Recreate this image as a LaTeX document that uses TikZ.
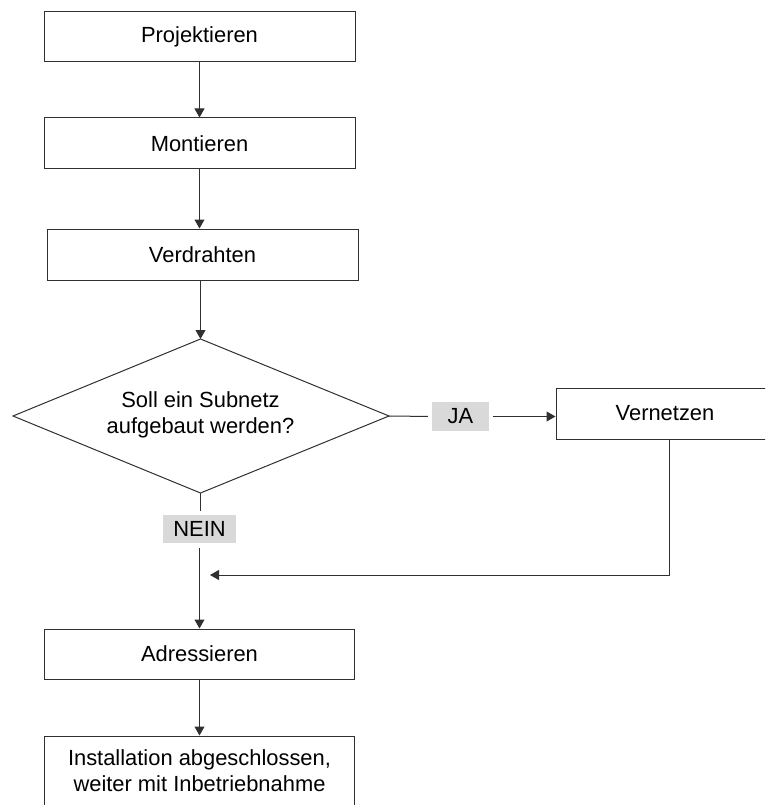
\documentclass[tikz,border=0pt]{standalone}
\usepackage{fontspec}
\setmainfont{Liberation Sans}
\usetikzlibrary{arrows.meta}
\definecolor{linec}{HTML}{303030}
\definecolor{labg}{HTML}{D9D9D9}
\begin{document}
\begin{tikzpicture}[x=1pt,y=-1pt,
  txt/.style={font=\fontsize{21.9}{26}\selectfont, align=center, text=black},
  box/.style={txt, draw=linec, line width=1pt, fill=white, minimum width=311pt, minimum height=51pt, inner sep=0pt},
  diatext/.style={txt, inner sep=0pt},
  lab/.style={txt, fill=labg, inner sep=0pt},
  conn/.style={draw=linec, line width=1pt},
  arr/.style={conn, -{Triangle[length=9pt,width=10pt]}}]
\useasboundingbox (0,0) rectangle (765,805);
\clip (0,0) rectangle (765,805);
\node[box, minimum height=50pt] (P) at (199.5,37) {Projektieren};
\node[box] (M) at (199.5,143.5) {Montieren};
\node[box] (V) at (202.5,254.5) {Verdrahten};
\coordinate (Dt) at (200.5,339);
\coordinate (Db) at (200.5,493);
\coordinate (Dl) at (13,416);
\coordinate (Dr) at (389,416);
\draw[conn, fill=white] (Dt) -- (Dr) -- (Db) -- (Dl) -- cycle;
\node[diatext] (D) at (200.5,415) {Soll ein Subnetz\\aufgebaut werden?};
\node[lab, minimum width=57pt, minimum height=29pt] (JA) at (460.5,416.5) {JA};
\node[box, minimum width=218pt] (VN) at (665,413.5) {Vernetzen};
\node[lab, minimum width=73pt, minimum height=28pt] (NEIN) at (199.5,529) {NEIN};
\node[box, minimum width=310pt, minimum height=50pt] (A) at (199.5,654) {Adressieren};
\node[box, minimum width=310pt, minimum height=70pt] (I) at (199.5,771) {Installation abgeschlossen,\\weiter mit Inbetriebnahme};
\coordinate (c) at (669,575);
\coordinate (j) at (210,575);
\draw[arr] (P.south) -- (P.south |- M.north);
\draw[arr] (M.south) -- (M.south |- V.north);
\draw[arr] (Dt |- V.south) -- (Dt);
\draw[conn, shorten >=4pt] (Dr) -- (JA.west);
\draw[arr, shorten <=4pt] (JA.east) -- (VN.west |- JA.east);
\draw[conn, shorten >=4pt] (Db) -- (Db |- NEIN.north);
\draw[arr, shorten <=5pt] (NEIN.south) -- (NEIN.south |- A.north);
\draw[arr] (VN.south -| c) -- (c) -- (j);
\draw[arr] (A.south) -- (A.south |- I.north);
\end{tikzpicture}
\end{document}
